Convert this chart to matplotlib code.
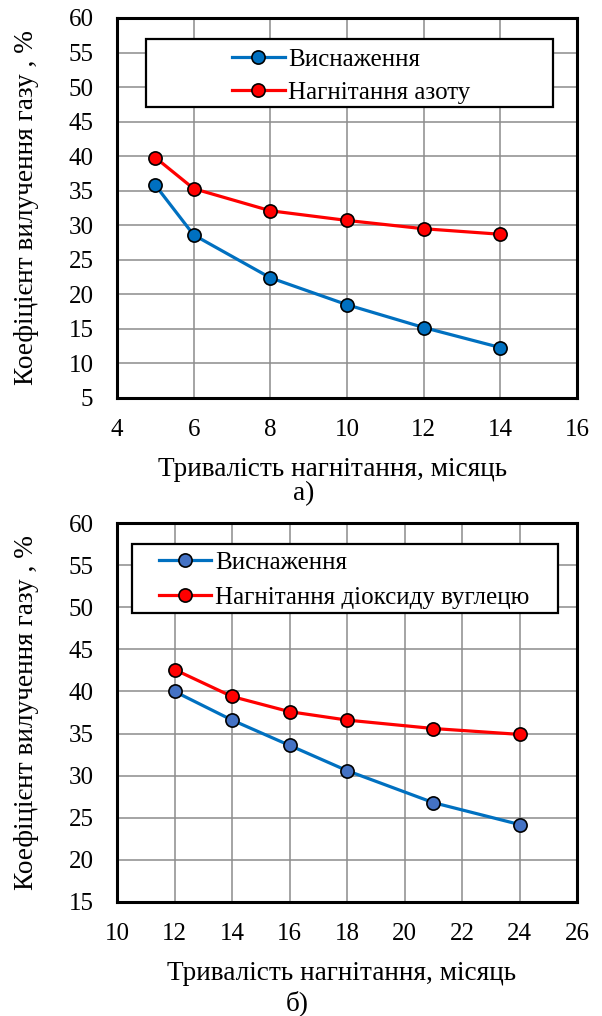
import matplotlib
matplotlib.use("Agg")
import matplotlib.pyplot as plt
from matplotlib.patches import Rectangle
from matplotlib import font_manager as fm

# chart a) - nitrogen injection
months_a = [5, 6, 8, 10, 12, 14]
depletion_a = [35.8, 28.6, 22.4, 18.5, 15.2, 12.3]
nitrogen_a = [39.8, 35.3, 32.1, 30.7, 29.5, 28.7]

# chart b) - CO2 injection
months_b = [12, 14, 16, 18, 21, 24]
depletion_b = [40.0, 36.6, 33.6, 30.6, 26.8, 24.2]
co2_b = [42.6, 39.4, 37.6, 36.6, 35.6, 34.9]

xticks_a = [4, 6, 8, 10, 12, 14, 16]
yticks_a = [5, 10, 15, 20, 25, 30, 35, 40, 45, 50, 55, 60]
xticks_b = [10, 12, 14, 16, 18, 20, 22, 24, 26]
yticks_b = [15, 20, 25, 30, 35, 40, 45, 50, 55, 60]

label_dep = "Виснаження"
label_n2 = "Нагнітання азоту"
label_co2 = "Нагнітання діоксиду вуглецю"
xlabel = "Тривалість нагнітання, місяць"
ylabel = "Коефіцієнт вилучення газу , %"

# serif font picked by file path so nothing falls back to sans
FONT_PATH = fm.findfont(fm.FontProperties(family="Liberation Serif"))
fp = fm.FontProperties(fname=FONT_PATH, size=18)       # ticks, legend
fp_title = fm.FontProperties(fname=FONT_PATH, size=19.6)  # axis titles, captions

BLUE = "#0070C0"
BLUE_MK = "#4472C4"
RED = "#FF0000"

W, H = 602, 1016
fig = plt.figure(figsize=(W / 100, H / 100), dpi=100)


def px_axes(left, top, right, bottom):
    return fig.add_axes([left / W, 1 - bottom / H, (right - left) / W, (bottom - top) / H])


def setup(ax, xt, yt):
    ax.set_xlim(xt[0], xt[-1])
    ax.set_ylim(yt[0], yt[-1])
    ax.set_xticks(xt)
    ax.set_yticks(yt)
    ax.set_xticklabels([str(v) for v in xt], fontproperties=fp)
    ax.set_yticklabels([str(v) for v in yt], fontproperties=fp)
    ax.grid(True, color="#8c8c8c", linewidth=1.1)
    ax.set_axisbelow(True)
    for s in ax.spines.values():
        s.set_linewidth(2.2)
        s.set_color("black")
    ax.tick_params(axis="both", length=0)
    ax.tick_params(axis="x", pad=15)
    ax.tick_params(axis="y", pad=17)
    ax.set_ylabel(ylabel, fontproperties=fp_title)
    ax.yaxis.set_label_coords(-0.17, 0.5)


def legend_box(ax, box, anchor_x, anchor_y, spacing):
    ax.add_patch(Rectangle((box[0], box[1]), box[2] - box[0], box[3] - box[1],
                           transform=ax.transAxes, facecolor="white",
                           edgecolor="black", linewidth=1.6, zorder=4))
    ax.legend(loc="center left", bbox_to_anchor=(anchor_x, anchor_y), frameon=False,
              prop=fp, borderpad=0, borderaxespad=0,
              handlelength=2.1, handletextpad=0.15, labelspacing=spacing)


def series(ax, x, y, line, face, label):
    ax.plot(x, y, color=line, lw=2.3, marker="o", ms=9.5,
            mfc=face, mec="black", mew=1.2, label=label, zorder=3)


# ---- a)
ax1 = px_axes(117, 18, 577, 398)
setup(ax1, xticks_a, yticks_a)
series(ax1, months_a, depletion_a, BLUE, BLUE, label_dep)
series(ax1, months_a, nitrogen_a, RED, RED, label_n2)
legend_box(ax1, (0.063, 0.766, 0.948, 0.945), 0.25, 0.848, 0.42)
fig.text(333 / W, 1 - 469 / H, xlabel, ha="center", va="center", fontproperties=fp_title)
fig.text(304 / W, 1 - 494 / H, "а)", ha="center", va="center", fontproperties=fp_title)

# ---- b)
ax2 = px_axes(117, 523, 577, 902)
setup(ax2, xticks_b, yticks_b)
series(ax2, months_b, depletion_b, BLUE, BLUE_MK, label_dep)
series(ax2, months_b, co2_b, RED, RED, label_co2)
legend_box(ax2, (0.033, 0.762, 0.959, 0.945), 0.091, 0.850, 0.5)
fig.text(342 / W, 1 - 973 / H, xlabel, ha="center", va="center", fontproperties=fp_title)
fig.text(297 / W, 1 - 1003 / H, "б)", ha="center", va="center", fontproperties=fp_title)

fig.savefig("out.png", dpi=100)
